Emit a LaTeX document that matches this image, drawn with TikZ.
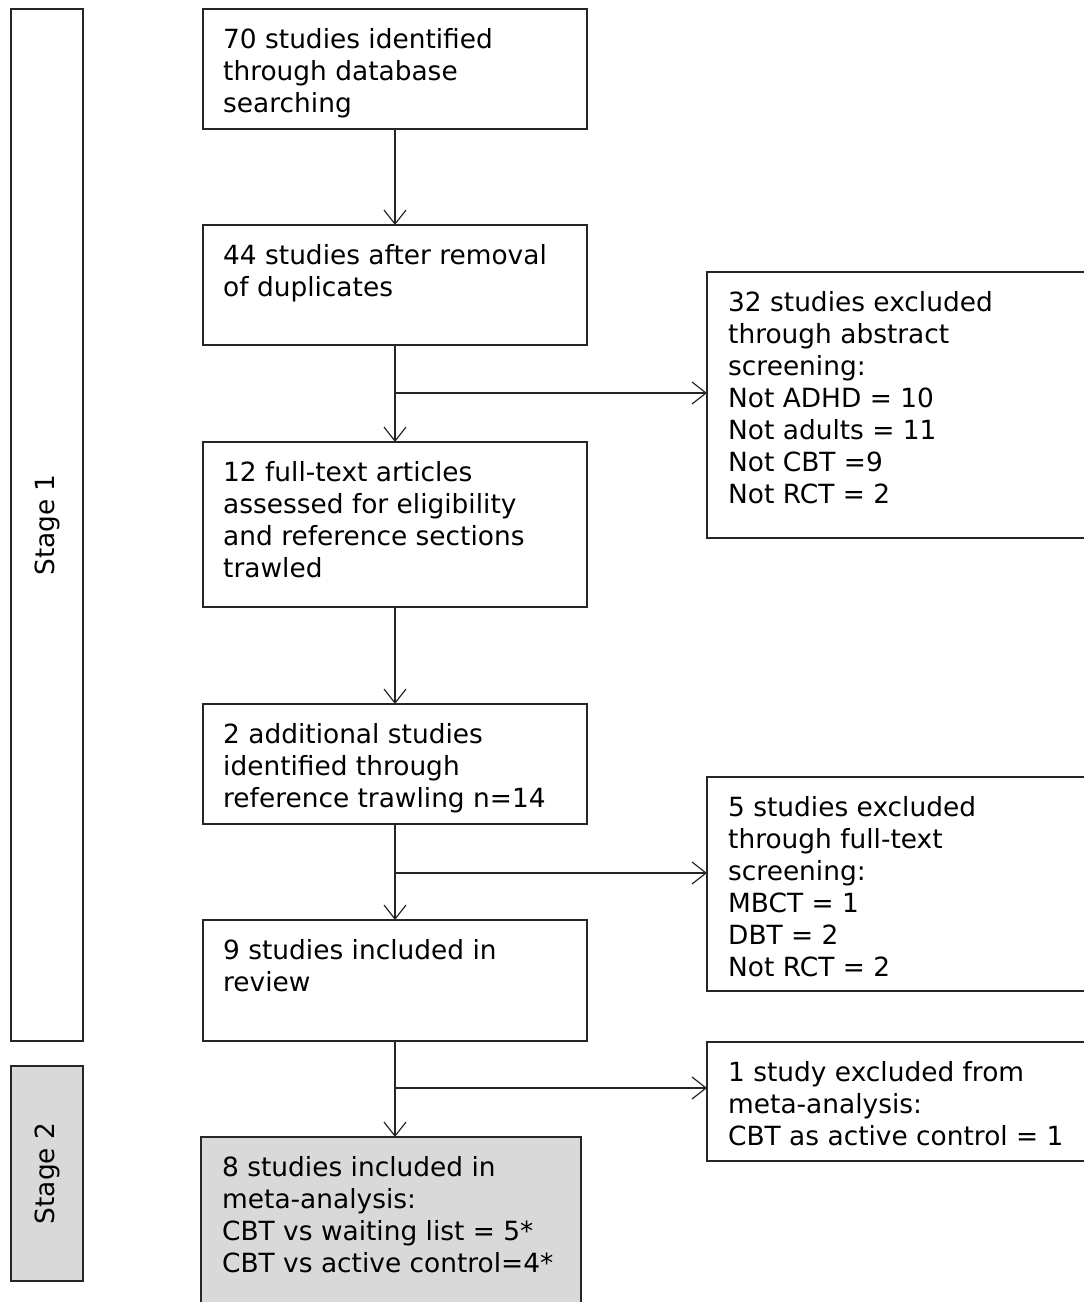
\documentclass[tikz,border=0pt]{standalone}
\usepackage{fontspec}
\setmainfont{DejaVu Sans}
\usetikzlibrary{arrows.meta,calc}
\definecolor{greyfill}{HTML}{D9D9D9}
\begin{document}
\begin{tikzpicture}[x=1pt,y=1pt,
  box/.style={draw=black!85, line width=1.3pt, anchor=north west, inner sep=0pt, outer sep=0pt},
  txt/.style={anchor=north west, inner sep=0pt, align=left, font=\fontsize{26.4}{32}\selectfont},
  stagetxt/.style={rotate=90, inner sep=0pt, font=\fontsize{26.4}{32}\selectfont},
  arr/.style={line width=1.2pt, black!85, -{Straight Barb[length=14pt,width=22pt,line width=1.2pt]}},
  ln/.style={line width=1.2pt, black!85}]
\clip (0,0) rectangle (1084,-1302);
% stage boxes
\node[box, minimum width=72, minimum height=1032] (s1) at (11,-9) {};
\node[stagetxt] (s1t) at (s1.center) {Stage 1};
\node[box, fill=greyfill, minimum width=72, minimum height=215] (s2) at (11,-1066) {};
\node[stagetxt] (s2t) at (s2.center) {Stage 2};
% main column
\node[box, minimum width=384, minimum height=120] (b1) at (203,-9) {};
\node[txt] (t1) at ($(b1.north west)+(20,-19)$) {70 studies identified\\through database\\searching};
\node[box, minimum width=384, minimum height=120] (b2) at (203,-225) {};
\node[txt] (t2) at ($(b2.north west)+(20,-19)$) {44 studies after removal\\of duplicates};
\node[box, minimum width=384, minimum height=165] (b3) at (203,-442) {};
\node[txt] (t3) at ($(b3.north west)+(20,-19)$) {12 full-text articles\\assessed for eligibility\\and reference sections\\trawled};
\node[box, minimum width=384, minimum height=120] (b4) at (203,-704) {};
\node[txt] (t4) at ($(b4.north west)+(20,-19)$) {2 additional studies\\identified through\\reference trawling n=14};
\node[box, minimum width=384, minimum height=121] (b5) at (203,-920) {};
\node[txt] (t5) at ($(b5.north west)+(20,-19)$) {9 studies included in\\review};
\node[box, fill=greyfill, minimum width=380, minimum height=200] (b6) at (201,-1137) {};
\node[txt] (t6) at ($(b6.north west)+(21,-19)$) {8 studies included in\\meta-analysis:\\CBT vs waiting list = 5*\\CBT vs active control=4*};
% right column
\node[box, minimum width=420, minimum height=266] (rA) at (707,-272) {};
\node[txt] (tA) at ($(rA.north west)+(21,-19)$) {32 studies excluded\\through abstract\\screening:\\Not ADHD = 10\\Not adults = 11\\Not CBT =9\\Not RCT = 2};
\node[box, minimum width=420, minimum height=214] (rB) at (707,-777) {};
\node[txt] (tB) at ($(rB.north west)+(21,-19)$) {5 studies excluded\\through full-text\\screening:\\MBCT = 1\\DBT = 2\\Not RCT = 2};
\node[box, minimum width=420, minimum height=119] (rC) at (707,-1042) {};
\node[txt] (tC) at ($(rC.north west)+(21,-19)$) {1 study excluded from\\meta-analysis:\\CBT as active control = 1};
% branch points
\coordinate (c1) at (395,-393);
\coordinate (c2) at (395,-873);
\coordinate (c3) at (395,-1088);
% connectors
\draw[arr] (b1.south) -- (b2.north);
\draw[arr] (b2.south) -- (b3.north);
\draw[arr] (b3.south) -- (b4.north);
\draw[arr] (b4.south) -- (b5.north);
\draw[arr] (b5.south) -- (b5.south |- b6.north);
\draw[arr] (c1) -- (c1 -| rA.west);
\draw[arr] (c2) -- (c2 -| rB.west);
\draw[arr] (c3) -- (c3 -| rC.west);
\end{tikzpicture}
\end{document}
